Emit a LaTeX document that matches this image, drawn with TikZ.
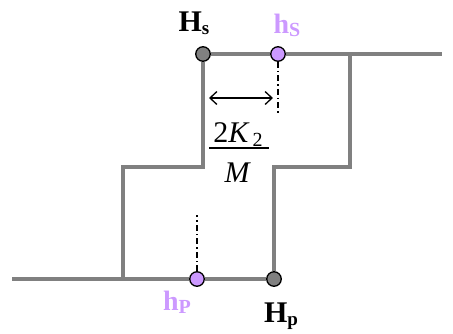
\documentclass[tikz,border=0pt]{standalone}
\usepackage{fontspec}
\setmainfont{Liberation Serif}
\usetikzlibrary{arrows.meta}
\definecolor{stepgray}{HTML}{808080}
\definecolor{lav}{HTML}{CC99FF}
\begin{document}
\begin{tikzpicture}[x=1pt,y=-1pt,
  loop/.style={draw=stepgray,line width=3.6pt,line join=miter},
  bigdot/.style={circle,draw=black,line width=1.3pt,minimum size=14.5pt,inner sep=0pt,fill=stepgray},
  smalldot/.style={circle,draw=black,line width=1.3pt,minimum size=14.5pt,inner sep=0pt,fill=lav},
  guide/.style={draw=black,line width=1.3pt,dash pattern=on 6pt off 3pt on 1.5pt off 3pt},
  lbl/.style={inner sep=0pt,anchor=base,font=\fontsize{28}{28}\selectfont\bfseries},
  biglbl/.style={inner sep=0pt,anchor=base,font=\fontsize{30}{30}\selectfont\bfseries}
]
\useasboundingbox (0,0) rectangle (453,333);
% hysteresis loop
\coordinate (bl) at (12,279);
\coordinate (l1) at (123,279);
\coordinate (l2) at (123,167);
\coordinate (l3) at (203,167);
\coordinate (tr) at (442,54);
\coordinate (r1) at (350,54);
\coordinate (r2) at (350,167);
\coordinate (r3) at (274,167);
\node[bigdot] (Hs) at (203,54) {};
\node[smalldot] (hs) at (278,54) {};
\node[bigdot] (Hp) at (274,279) {};
\node[smalldot] (hp) at (197,279) {};
\draw[loop] (bl) -- (hp.west);
\draw[loop] (hp.east) -- (Hp.west);
\draw[loop] (Hp.north) -- (r3) -- (r2) -- (r1) -- (hs.east);
\draw[loop] (r1) -- (tr);
\draw[loop] (hs.west) -- (Hs.east);
\draw[loop] (Hs.south) -- (l3) -- (l2) -- (l1);
% guides
\coordinate (hsend) at (278,113);
\coordinate (hpend) at (197,215);
\draw[guide] (hs.south) -- (hsend);
\draw[guide] (hp.north) -- (hpend);
% arrow
\coordinate (aL) at (209,98);
\coordinate (aR) at (273,98);
\draw[line width=1.3pt,{Straight Barb[length=7pt,width=13pt]}-{Straight Barb[length=7pt,width=13pt]}] (aL) -- (aR);
% fraction
\node[inner sep=0pt,anchor=base,font=\fontsize{30}{30}\selectfont] (num) at (238,142) {2\textit{K}\kern3pt\raisebox{-4pt}{\fontsize{20}{20}\selectfont 2}};
\coordinate (fbL) at (209,148);
\coordinate (fbR) at (269,148);
\draw[line width=1.3pt] (fbL) -- (fbR);
\node[inner sep=0pt,anchor=base,font=\fontsize{30}{30}\selectfont\itshape] (den) at (237,182) {M};
% labels
\node[biglbl] (lHs) at (194,31) {H\raisebox{-3pt}{\fontsize{19}{19}\selectfont s}};
\node[lbl,text=lav] (lhs) at (287,33) {h\raisebox{-3pt}{\fontsize{20}{20}\selectfont S}};
\node[lbl,text=lav] (lhp) at (177,310) {h\raisebox{-3pt}{\fontsize{20}{20}\selectfont P}};
\node[biglbl] (lHp) at (281,322) {H\raisebox{-3pt}{\fontsize{19}{19}\selectfont p}};
\end{tikzpicture}
\end{document}
